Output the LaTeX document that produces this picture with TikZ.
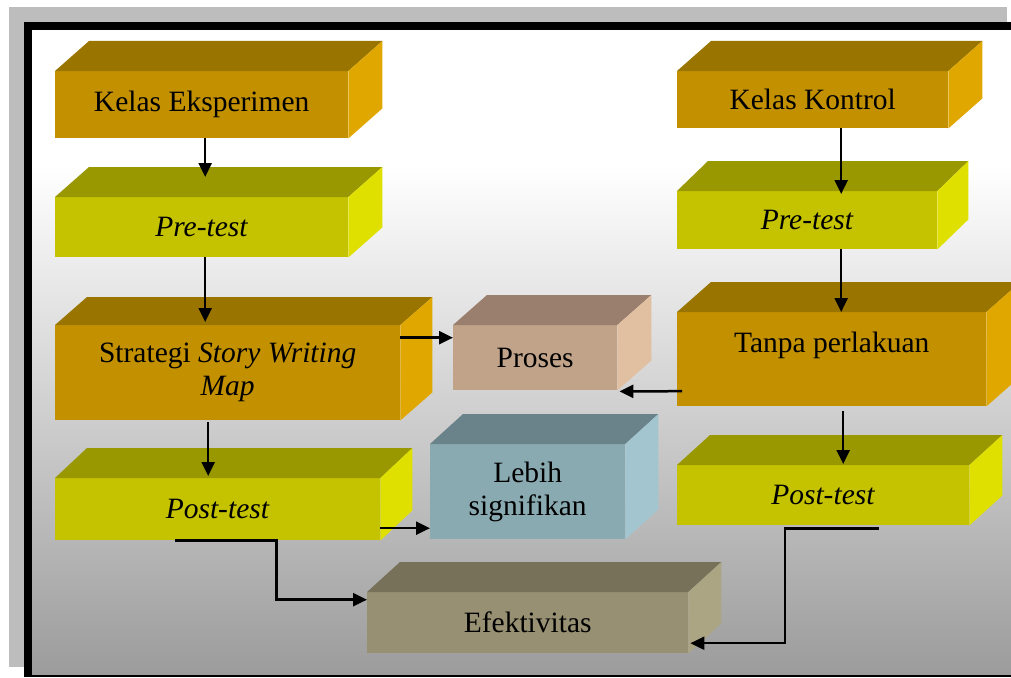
\documentclass[tikz,border=0pt]{standalone}
\usepackage{fontspec}
\setmainfont{Liberation Serif}
\usetikzlibrary{arrows.meta,calc}
\definecolor{orF}{HTML}{C39100}
\definecolor{orT}{HTML}{997500}
\definecolor{orR}{HTML}{E0A700}
\definecolor{yeF}{HTML}{C5C300}
\definecolor{yeT}{HTML}{999800}
\definecolor{yeR}{HTML}{E0E000}
\definecolor{prF}{HTML}{C1A38A}
\definecolor{prT}{HTML}{9A7F6E}
\definecolor{prR}{HTML}{E1BFA1}
\definecolor{lsF}{HTML}{8AAAB2}
\definecolor{lsT}{HTML}{6A838A}
\definecolor{lsR}{HTML}{A2C5D0}
\definecolor{efF}{HTML}{979073}
\definecolor{efT}{HTML}{77715A}
\definecolor{efR}{HTML}{ACA584}
\definecolor{shadowgrey}{HTML}{BDBDBD}
\definecolor{bgbottom}{HTML}{9C9C9C}
\tikzset{
  face/.style={inner sep=0pt, anchor=north west, align=center,
    font=\fontsize{29.5}{33}\selectfont},
  arr/.style={line width=2.5pt, -{Triangle[length=14pt,width=13pt]}},
  line/.style={line width=2.5pt},
}
\newcommand{\cubesides}[5]{%
  \fill[#4] (#1.north west) -- ([shift={(#2,-#3)}]#1.north west)
     -- ([shift={(#2,-#3)}]#1.north east) -- (#1.north east) -- cycle;
  \fill[#5] (#1.north east) -- ([shift={(#2,-#3)}]#1.north east)
     -- ([shift={(#2,-#3)}]#1.south east) -- (#1.south east) -- cycle;}
\begin{document}
\begin{tikzpicture}[x=1pt,y=-1pt]
\clip (0,0) rectangle (1011,677);
\useasboundingbox (0,0) rectangle (1011,677);
% frame
\fill[shadowgrey] (9,7) rectangle (1007,667);
\fill[black] (24,22) rectangle (1011,677);
\fill[white] (32,30) rectangle (1011,166);
\shade[top color=white, bottom color=bgbottom] (32,165) rectangle (1011,674);
% boxes
\node[face, fill=orF, minimum width=293pt, minimum height=67pt] (ke) at (55,71) {Kelas Eksperimen};
\cubesides{ke}{34}{30}{orT}{orR}
\node[face, fill=yeF, minimum width=293pt, minimum height=60pt] (pl) at (55,197) {\textit{Pre-test}};
\cubesides{pl}{34}{30}{yeT}{yeR}
\node[face, fill=orF, minimum width=345pt, minimum height=95pt] (sw) at (55,325) {Strategi \textit{Story Writing}\\\textit{Map}};
\cubesides{sw}{32}{28}{orT}{orR}
\node[face, fill=yeF, minimum width=325pt, minimum height=62pt] (ql) at (55,478) {\textit{Post-test}};
\cubesides{ql}{32}{30}{yeT}{yeR}
\node[face, fill=prF, minimum width=164pt, minimum height=65pt] (pr) at (453,325) {Proses};
\cubesides{pr}{34}{30}{prT}{prR}
\node[face, fill=lsF, minimum width=195pt, minimum height=95pt] (ls) at (430,444) {Lebih\\signifikan};
\cubesides{ls}{33}{30}{lsT}{lsR}
\node[face, fill=orF, minimum width=271pt, minimum height=57pt] (kk) at (677,71) {Kelas Kontrol};
\cubesides{kk}{34}{30}{orT}{orR}
\node[face, fill=yeF, minimum width=260pt, minimum height=58pt] (pq) at (677,191) {\textit{Pre-test}};
\cubesides{pq}{31}{30}{yeT}{yeR}
\node[face, fill=orF, minimum width=309pt, minimum height=94pt, text height=21pt, text depth=35pt] (tp) at (677,312) {Tanpa perlakuan};
\cubesides{tp}{34}{30}{orT}{orR}
\node[face, fill=yeF, minimum width=292pt, minimum height=60pt] (qr) at (677,465) {\textit{Post-test}};
\cubesides{qr}{33}{30}{yeT}{yeR}
\node[face, fill=efF, minimum width=321pt, minimum height=61pt] (ef) at (367,592) {Efektivitas};
\cubesides{ef}{33}{30}{efT}{efR}
% connectors
\draw[arr] ([xshift=3.5pt]ke.south) -- ([xshift=3.5pt,yshift=20pt]pl.north);
\draw[arr] ([xshift=3.5pt]pl.south) -- ([xshift=3.5pt,yshift=3pt]pl.south |- sw.north);
\draw[arr] ([xshift=-19.5pt,yshift=-2pt]sw.south) -- ([xshift=-19.5pt,yshift=2pt]sw.south |- ql.north);
\draw[arr] ([yshift=35pt]sw.east) -- ([yshift=35pt]sw.east -| pr.west);
\draw[arr] ([xshift=5pt,yshift=-32pt]tp.west) -- ([xshift=2pt,yshift=-1pt]pr.south east);
\draw[arr] ([xshift=28.5pt]kk.south) -- ([xshift=28.5pt,yshift=-3pt]kk.south |- pq.north);
\draw[arr] ([xshift=34pt]pq.south) -- ([xshift=34pt]pq.south |- tp.north);
\draw[arr] ([xshift=11.5pt,yshift=-5pt]tp.south) -- ([xshift=11.5pt,yshift=1pt]tp.south |- qr.north);
\draw[arr] ([yshift=-19pt]ql.east) -- ([yshift=-36.5pt]ls.west);
\draw[arr] ([xshift=-42.5pt]ql.south) -- ([xshift=59pt]ql.south) |- ([yshift=23pt]ef.west);
\draw[arr] ([xshift=56pt,yshift=-3pt]qr.south) -- ([xshift=-38pt,yshift=-3pt]qr.south) |- ([xshift=2pt,yshift=-20.5pt]ef.east);
\end{tikzpicture}
\end{document}
